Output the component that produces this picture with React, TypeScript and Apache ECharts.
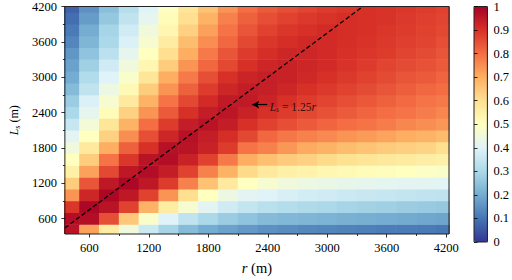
import React, { useEffect, useRef } from "react";
import * as echarts from "echarts";

// grid of r (x) and L_s (y) cell centres, metres
const R_VALUES = [400, 600, 800, 1000, 1200, 1400, 1600, 1800, 2000, 2200, 2400, 2600, 2800, 3000, 3200, 3400, 3600, 3800, 4000, 4200];
const L_VALUES = [400, 600, 800, 1000, 1200, 1400, 1600, 1800, 2000, 2200, 2400, 2600, 2800, 3000, 3200, 3400, 3600, 3800, 4000, 4200];

// values, one row per L_s (bottom row first), one entry per r
const ROW_400 = [0.96, 0.72, 0.56, 0.45, 0.36, 0.29, 0.235, 0.2, 0.18, 0.165, 0.15, 0.142, 0.135, 0.13, 0.125, 0.12, 0.115, 0.112, 0.11, 0.105];
const ROW_600 = [0.97, 0.97, 0.85, 0.65, 0.48, 0.4, 0.34, 0.3, 0.27, 0.25, 0.23, 0.225, 0.22, 0.215, 0.21, 0.205, 0.2, 0.195, 0.19, 0.185];
const ROW_800 = [0.89, 0.985, 0.96, 0.87, 0.69, 0.56, 0.47, 0.41, 0.37, 0.345, 0.325, 0.315, 0.305, 0.3, 0.29, 0.285, 0.28, 0.27, 0.265, 0.26];
const ROW_1000 = [0.74, 0.92, 0.985, 0.95, 0.87, 0.74, 0.6, 0.5, 0.44, 0.41, 0.4, 0.385, 0.375, 0.37, 0.36, 0.355, 0.35, 0.345, 0.34, 0.335];
const ROW_1200 = [0.64, 0.84, 0.95, 0.985, 0.95, 0.88, 0.77, 0.66, 0.57, 0.5, 0.47, 0.45, 0.44, 0.43, 0.425, 0.42, 0.415, 0.41, 0.41, 0.405];
const ROW_1400 = [0.55, 0.72, 0.86, 0.95, 0.975, 0.94, 0.87, 0.77, 0.69, 0.61, 0.57, 0.55, 0.54, 0.53, 0.52, 0.51, 0.505, 0.5, 0.49, 0.48];
const ROW_1600 = [0.5, 0.64, 0.79, 0.89, 0.96, 0.97, 0.93, 0.87, 0.78, 0.7, 0.665, 0.645, 0.63, 0.61, 0.595, 0.585, 0.575, 0.565, 0.555, 0.55];
const ROW_1800 = [0.45, 0.57, 0.7, 0.82, 0.9, 0.965, 0.96, 0.93, 0.88, 0.79, 0.77, 0.735, 0.705, 0.69, 0.67, 0.655, 0.645, 0.635, 0.625, 0.6];
const ROW_2000 = [0.41, 0.5, 0.63, 0.75, 0.85, 0.92, 0.965, 0.94, 0.905, 0.86, 0.81, 0.785, 0.77, 0.755, 0.74, 0.73, 0.715, 0.7, 0.69, 0.675];
const ROW_2200 = [0.35, 0.46, 0.58, 0.69, 0.8, 0.88, 0.94, 0.96, 0.94, 0.9, 0.87, 0.85, 0.83, 0.815, 0.8, 0.79, 0.775, 0.76, 0.75, 0.735];
const ROW_2400 = [0.3, 0.42, 0.51, 0.63, 0.74, 0.83, 0.9, 0.94, 0.955, 0.93, 0.9, 0.88, 0.86, 0.845, 0.83, 0.815, 0.8, 0.79, 0.775, 0.76];
const ROW_2600 = [0.27, 0.39, 0.47, 0.57, 0.69, 0.79, 0.86, 0.91, 0.945, 0.945, 0.925, 0.9, 0.88, 0.865, 0.85, 0.835, 0.82, 0.805, 0.79, 0.78];
const ROW_2800 = [0.23, 0.34, 0.44, 0.52, 0.64, 0.74, 0.82, 0.88, 0.92, 0.94, 0.935, 0.92, 0.9, 0.885, 0.87, 0.855, 0.84, 0.825, 0.81, 0.8];
const ROW_3000 = [0.2, 0.31, 0.4, 0.48, 0.58, 0.7, 0.78, 0.85, 0.9, 0.925, 0.935, 0.93, 0.915, 0.9, 0.885, 0.87, 0.855, 0.84, 0.83, 0.815];
const ROW_3200 = [0.18, 0.28, 0.37, 0.45, 0.53, 0.64, 0.74, 0.81, 0.86, 0.9, 0.92, 0.93, 0.92, 0.91, 0.895, 0.88, 0.865, 0.855, 0.845, 0.83];
const ROW_3400 = [0.16, 0.25, 0.33, 0.42, 0.5, 0.6, 0.7, 0.78, 0.84, 0.88, 0.905, 0.92, 0.92, 0.91, 0.9, 0.89, 0.88, 0.865, 0.855, 0.84];
const ROW_3600 = [0.13, 0.22, 0.3, 0.39, 0.47, 0.56, 0.67, 0.75, 0.81, 0.86, 0.89, 0.905, 0.915, 0.91, 0.905, 0.895, 0.885, 0.875, 0.865, 0.85];
const ROW_3800 = [0.11, 0.2, 0.29, 0.37, 0.45, 0.53, 0.63, 0.72, 0.79, 0.84, 0.87, 0.89, 0.9, 0.91, 0.905, 0.9, 0.89, 0.88, 0.87, 0.86];
const ROW_4000 = [0.09, 0.17, 0.26, 0.34, 0.42, 0.51, 0.6, 0.69, 0.77, 0.82, 0.85, 0.87, 0.885, 0.895, 0.905, 0.9, 0.895, 0.885, 0.875, 0.865];
const ROW_4200 = [0.07, 0.15, 0.24, 0.32, 0.4, 0.49, 0.58, 0.66, 0.74, 0.8, 0.83, 0.85, 0.865, 0.88, 0.89, 0.9, 0.895, 0.89, 0.88, 0.87];

const ROWS = [ROW_400, ROW_600, ROW_800, ROW_1000, ROW_1200, ROW_1400, ROW_1600, ROW_1800, ROW_2000, ROW_2200,
  ROW_2400, ROW_2600, ROW_2800, ROW_3000, ROW_3200, ROW_3400, ROW_3600, ROW_3800, ROW_4000, ROW_4200];

const CELL_STEP = 200;

// axes
const X_MIN = 353;
const X_MAX = 4229;
const Y_MIN = 338;
const Y_MAX = 4200;
const X_TICKS = [600, 1200, 1800, 2400, 3000, 3600, 4200];
const X_MINOR = [900, 1500, 2100, 2700, 3300, 3900];
const Y_TICKS = [600, 1200, 1800, 2400, 3000, 3600, 4200];
const Y_MINOR = [900, 1500, 2100, 2700, 3300, 3900];
const CB_TICKS = [0, 0.1, 0.2, 0.3, 0.4, 0.5, 0.6, 0.7, 0.8, 0.9, 1];

// reference line L_s = 1.25 r
const LINE_SLOPE = 1.25;
const LINE_R = [X_MIN, Y_MAX / LINE_SLOPE];

// annotation
const ANNOT_ARROW_TAIL = [2395, 2534];
const ANNOT_ARROW_HEAD = [2244, 2534];
const ANNOT_TEXT_POS = [2420, 2500];

const RDYLBU_R = ["#313695", "#4575b4", "#74add1", "#abd9e9", "#e0f3f8", "#ffffbf", "#fee090", "#fdae61", "#f46d43", "#d73027", "#a50026"];

const FONT = "'Liberation Serif', 'Times New Roman', serif";

export default function App() {
  const ref = useRef<HTMLDivElement>(null);

  useEffect(() => {
    if (!ref.current) return;
    const chart = echarts.init(ref.current, undefined, { renderer: "svg" });

    const cells: number[][] = [];
    ROWS.forEach((row, yi) => {
      row.forEach((v, xi) => {
        cells.push([R_VALUES[xi], L_VALUES[yi], v]);
      });
    });

    const half = CELL_STEP / 2;
    const tickStyle = { color: "#000", width: 0.8 };
    const labelStyle = { color: "#000", fontFamily: FONT, fontSize: 12.5 };
    const plain = (v: number) => String(v);

    const option: any = {
      animation: false,
      backgroundColor: "#fff",
      grid: [
        { left: 52, top: 6, width: 397, height: 236, show: true, z: 10, backgroundColor: "transparent", borderColor: "#222", borderWidth: 1 },
        { left: 474, top: 6, width: 14, height: 236, show: true, z: 10, backgroundColor: "transparent", borderColor: "#222", borderWidth: 1 },
      ],
      visualMap: {
        type: "continuous",
        min: 0,
        max: 1,
        seriesIndex: 0,
        dimension: 2,
        inRange: { color: RDYLBU_R },
        calculable: false,
        orient: "vertical",
        left: 474,
        top: 6,
        itemWidth: 14,
        itemHeight: 236,
        padding: 0,
        text: null,
        showLabel: false,
        hoverLink: false,
        textStyle: { color: "transparent" },
      },
      xAxis: [
        {
          type: "value", gridIndex: 0, min: X_MIN, max: X_MAX, position: "bottom", z: 10,
          axisLine: { show: false },
          splitLine: { show: false },
          axisTick: { show: true, customValues: X_TICKS, length: 3.5, lineStyle: tickStyle },
          axisLabel: { ...labelStyle, customValues: X_TICKS, margin: 7, formatter: plain },
          name: "{i|r} (m)",
          nameLocation: "middle",
          nameGap: 26,
          nameTextStyle: { fontFamily: FONT, fontSize: 14.5, color: "#000", rich: { i: { fontFamily: FONT, fontSize: 14.5, fontStyle: "italic", color: "#000" } } },
        },
        {
          type: "value", gridIndex: 0, min: X_MIN, max: X_MAX, position: "bottom", z: 10,
          axisLine: { show: false }, splitLine: { show: false }, axisLabel: { show: false },
          axisTick: { show: true, customValues: X_MINOR, length: 2, lineStyle: tickStyle },
        },
        {
          type: "value", gridIndex: 1, min: 0, max: 1, show: false,
        },
      ],
      yAxis: [
        {
          type: "value", gridIndex: 0, min: Y_MIN, max: Y_MAX, position: "left", z: 10,
          axisLine: { show: false },
          splitLine: { show: false },
          axisTick: { show: true, customValues: Y_TICKS, length: 3.5, lineStyle: tickStyle },
          axisLabel: { ...labelStyle, customValues: Y_TICKS, margin: 8, formatter: plain },
          name: "{i|L}{s|s}{n| (m)}",
          nameLocation: "middle",
          nameGap: 39,
          nameTextStyle: {
            fontFamily: FONT, fontSize: 12, color: "#000",
            rich: {
              i: { fontFamily: FONT, fontSize: 12, fontStyle: "italic", color: "#000" },
              s: { fontFamily: FONT, fontSize: 8, fontStyle: "italic", color: "#000", verticalAlign: "bottom", padding: [6, 0, 0, 0] },
              n: { fontFamily: FONT, fontSize: 12, color: "#000" },
            },
          },
        },
        {
          type: "value", gridIndex: 0, min: Y_MIN, max: Y_MAX, position: "left", z: 10,
          axisLine: { show: false }, splitLine: { show: false }, axisLabel: { show: false },
          axisTick: { show: true, customValues: Y_MINOR, length: 2, lineStyle: tickStyle },
        },
        {
          type: "value", gridIndex: 1, min: 0, max: 1, interval: 0.1, position: "right", z: 10,
          axisLine: { show: false },
          splitLine: { show: false },
          axisTick: { show: true, length: 3.5, lineStyle: tickStyle },
          axisLabel: {
            ...labelStyle, margin: 6,
            formatter: (v: number) => String(Math.round(v * 10) / 10),
            customValues: CB_TICKS,
          },
        },
      ],
      series: [
        {
          type: "custom",
          xAxisIndex: 0,
          yAxisIndex: 0,
          clip: true,
          data: cells,
          renderItem: (params: any, api: any) => {
            const r = api.value(0);
            const l = api.value(1);
            const p1 = api.coord([r - half, l + half]);
            const p2 = api.coord([r + half, l - half]);
            return {
              type: "rect",
              shape: { x: p1[0] - 0.3, y: p1[1] - 0.3, width: p2[0] - p1[0] + 0.6, height: p2[1] - p1[1] + 0.6 },
              style: { fill: api.visual("color"), stroke: null },
            };
          },
        },
        {
          type: "line",
          xAxisIndex: 0,
          yAxisIndex: 0,
          z: 5,
          symbol: "none",
          silent: true,
          data: LINE_R.map((r) => [r, r * LINE_SLOPE]),
          lineStyle: { color: "#000", width: 1.3, type: [4.5, 2.5] },
          markLine: {
            silent: true,
            symbol: ["none", "arrow"],
            symbolSize: [6, 7],
            label: { show: false },
            lineStyle: { color: "#000", width: 1.2, type: "solid" },
            data: [[{ coord: ANNOT_ARROW_TAIL }, { coord: ANNOT_ARROW_HEAD }]],
          },
        },
        {
          type: "scatter",
          xAxisIndex: 0,
          yAxisIndex: 0,
          z: 6,
          symbolSize: 0,
          silent: true,
          data: [ANNOT_TEXT_POS],
          label: {
            show: true,
            position: "right",
            distance: 0,
            formatter: "{i|L}{s|s}{n| = 1.25}{i|r}",
            rich: {
              i: { fontFamily: FONT, fontSize: 11.5, fontStyle: "italic", color: "#000" },
              s: { fontFamily: FONT, fontSize: 7.5, fontStyle: "italic", color: "#000", verticalAlign: "bottom", padding: [5, 0, 0, 0] },
              n: { fontFamily: FONT, fontSize: 11.5, color: "#000" },
            },
          },
        },
      ],
    };

    chart.setOption(option);
    return () => chart.dispose();
  }, []);

  return <div ref={ref} style={{ position: "absolute", left: 0, top: 0, width: 512, height: 280 }} />;
}
